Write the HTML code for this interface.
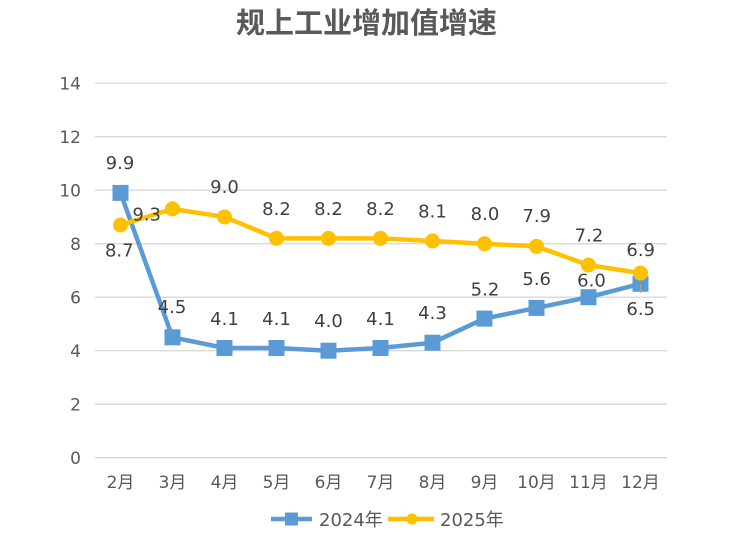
<!DOCTYPE html>
<html><head><meta charset="utf-8"><style>
html,body{margin:0;padding:0;background:#fff;}
svg{display:block;}
.t{font-family:"DejaVu Sans","Liberation Sans",sans-serif;}
</style></head><body>
<svg width="741" height="544" viewBox="0 0 741 544" xmlns="http://www.w3.org/2000/svg">
<rect width="741" height="544" fill="#fff"/>
<text x="366.5" y="33" text-anchor="middle" font-family="'Noto Sans CJK SC','WenQuanYi Zen Hei',sans-serif" font-weight="bold" font-size="29" fill="#595959">规上工业增加值增速</text>
<g stroke="#D9D9D9" stroke-width="1.4">
<line x1="95" y1="83.2" x2="667" y2="83.2"/>
<line x1="95" y1="136.7" x2="667" y2="136.7"/>
<line x1="95" y1="190.2" x2="667" y2="190.2"/>
<line x1="95" y1="243.7" x2="667" y2="243.7"/>
<line x1="95" y1="297.2" x2="667" y2="297.2"/>
<line x1="95" y1="350.7" x2="667" y2="350.7"/>
<line x1="95" y1="404.2" x2="667" y2="404.2"/>
<line x1="95" y1="457.7" x2="667" y2="457.7"/>
</g>
<g class="t" font-size="17" fill="#595959" text-anchor="end">
<text x="81" y="89.4">14</text>
<text x="81" y="142.9">12</text>
<text x="81" y="196.4">10</text>
<text x="81" y="249.9">8</text>
<text x="81" y="303.4">6</text>
<text x="81" y="356.9">4</text>
<text x="81" y="410.4">2</text>
<text x="81" y="463.9">0</text>
</g>
<g font-family="'DejaVu Sans','Noto Sans CJK SC',sans-serif" font-size="17" fill="#595959" text-anchor="middle">
<text x="120.5" y="488">2月</text>
<text x="172.5" y="488">3月</text>
<text x="224.5" y="488">4月</text>
<text x="276.5" y="488">5月</text>
<text x="328.5" y="488">6月</text>
<text x="380.5" y="488">7月</text>
<text x="432.5" y="488">8月</text>
<text x="484.5" y="488">9月</text>
<text x="536.5" y="488">10月</text>
<text x="588.5" y="488">11月</text>
<text x="640.5" y="488">12月</text>
</g>
<!-- 2024 series -->
<polyline fill="none" stroke="#5B9BD5" stroke-width="4.5" stroke-linejoin="round" points="120.5,192.9 172.5,337.3 224.5,348 276.5,348 328.5,350.7 380.5,348 432.5,342.7 484.5,318.6 536.5,307.9 588.5,297.2 640.5,283.8"/>
<g fill="#5B9BD5">
<rect x="112.5" y="184.9" width="16" height="16"/>
<rect x="164.5" y="329.3" width="16" height="16"/>
<rect x="216.5" y="340" width="16" height="16"/>
<rect x="268.5" y="340" width="16" height="16"/>
<rect x="320.5" y="342.7" width="16" height="16"/>
<rect x="372.5" y="340" width="16" height="16"/>
<rect x="424.5" y="334.7" width="16" height="16"/>
<rect x="476.5" y="310.6" width="16" height="16"/>
<rect x="528.5" y="299.9" width="16" height="16"/>
<rect x="580.5" y="289.2" width="16" height="16"/>
<rect x="632.5" y="275.8" width="16" height="16"/>
</g>
<!-- 2025 series -->
<polyline fill="none" stroke="#FFC000" stroke-width="4.5" stroke-linejoin="round" points="120.5,225 172.5,208.9 224.5,216.95 276.5,238.35 328.5,238.35 380.5,238.35 432.5,241 484.5,243.7 536.5,246.4 588.5,265.1 640.5,273.1"/>
<g fill="#FFC000">
<circle cx="120.5" cy="225" r="7.5"/>
<circle cx="172.5" cy="208.9" r="7.5"/>
<circle cx="224.5" cy="216.95" r="7.5"/>
<circle cx="276.5" cy="238.35" r="7.5"/>
<circle cx="328.5" cy="238.35" r="7.5"/>
<circle cx="380.5" cy="238.35" r="7.5"/>
<circle cx="432.5" cy="241" r="7.5"/>
<circle cx="484.5" cy="243.7" r="7.5"/>
<circle cx="536.5" cy="246.4" r="7.5"/>
<circle cx="588.5" cy="265.1" r="7.5"/>
<circle cx="640.5" cy="273.1" r="7.5"/>
</g>
<line x1="640.5" y1="284" x2="640.5" y2="293" stroke="#A6A6A6" stroke-width="1"/>
<!-- data labels -->
<g class="t" font-size="18" fill="#404040" text-anchor="middle">
<text x="120" y="169.2">9.9</text>
<text x="172" y="313.2">4.5</text>
<text x="224.5" y="324.8">4.1</text>
<text x="276.5" y="324.8">4.1</text>
<text x="328.5" y="327.2">4.0</text>
<text x="380.5" y="324.8">4.1</text>
<text x="432.5" y="319.2">4.3</text>
<text x="485" y="295.5">5.2</text>
<text x="536.7" y="284.8">5.6</text>
<text x="591.5" y="286.5">6.0</text>
<text x="640.7" y="314.8">6.5</text>
<text x="119.3" y="256.5">8.7</text>
<text x="146.7" y="220.5">9.3</text>
<text x="224.5" y="193.2">9.0</text>
<text x="276.5" y="214.8">8.2</text>
<text x="328.5" y="214.8">8.2</text>
<text x="380.5" y="214.8">8.2</text>
<text x="432.5" y="217.5">8.1</text>
<text x="485" y="219.8">8.0</text>
<text x="536.7" y="222.2">7.9</text>
<text x="589" y="241.5">7.2</text>
<text x="640.7" y="255.8">6.9</text>
</g>
<!-- legend -->
<line x1="271" y1="519" x2="312" y2="519" stroke="#5B9BD5" stroke-width="4.5"/>
<rect x="285" y="512.5" width="13" height="13" fill="#5B9BD5"/>
<text x="319" y="525.8" font-family="'DejaVu Sans','Noto Sans CJK SC',sans-serif" font-size="18" fill="#595959">2024年</text>
<line x1="388" y1="519" x2="434" y2="519" stroke="#FFC000" stroke-width="4.5"/>
<circle cx="412" cy="519" r="5.5" fill="#FFC000"/>
<text x="440" y="525.8" font-family="'DejaVu Sans','Noto Sans CJK SC',sans-serif" font-size="18" fill="#595959">2025年</text>
</svg>
</body></html>
